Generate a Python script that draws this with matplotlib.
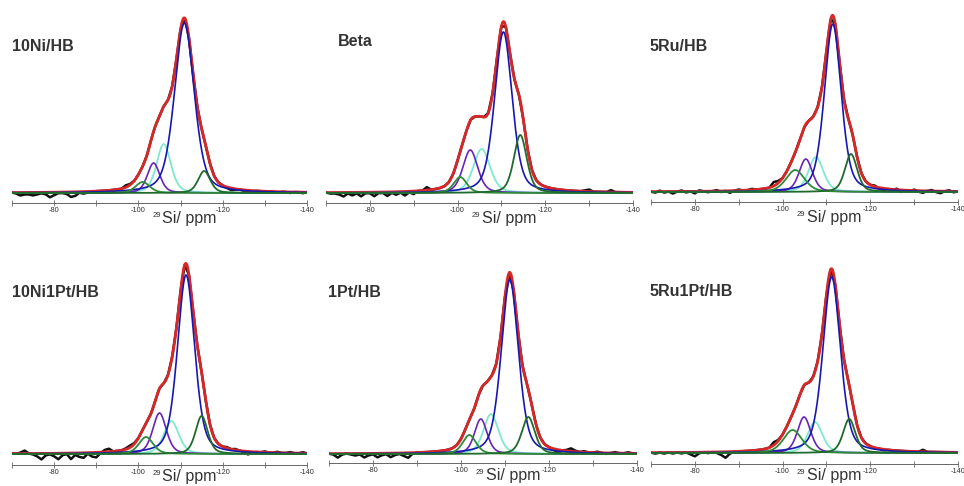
import matplotlib
matplotlib.use("Agg")
import matplotlib.pyplot as plt
import numpy as np

plt.rcParams['font.family'] = ['Liberation Sans', 'DejaVu Sans']

# sample names
titles = ["10Ni/HB", "Beta", "5Ru/HB", "10Ni1Pt/HB", "1Pt/HB", "5Ru1Pt/HB"]

# deconvoluted 29Si peaks: position (ppm), height (a.u.), fwhm (ppm)
green1_pos = [-101.0, -100.6, -102.9, -101.8, -101.9, -102.3]
green1_amp = [11, 16, 22, 17, 19, 23]
green1_fwhm = [4.0, 3.5, 5.0, 4.0, 3.6, 5.0]

purple_pos = [-103.6, -102.9, -105.3, -105.0, -104.5, -104.9]
purple_amp = [30, 43, 33, 41, 35, 36]
purple_fwhm = [3.5, 4.0, 3.6, 3.8, 3.4, 3.6]

cyan_pos = [-106.0, -105.5, -107.6, -107.8, -106.8, -107.4]
cyan_amp = [49, 44, 35, 33, 40, 31]
cyan_fwhm = [4.0, 4.5, 4.0, 4.2, 4.0, 4.0]

blue_pos = [-110.9, -110.45, -111.45, -111.3, -111.1, -111.2]
blue_amp = [170, 161, 168, 179, 174, 176]
blue_fwhm = [5.5, 4.7, 4.5, 4.8, 4.6, 4.7]

green2_pos = [-115.6, -114.3, -115.6, -115.0, -115.3, -115.2]
green2_amp = [22, 58, 38, 38, 37, 34]
green2_fwhm = [3.4, 3.5, 3.3, 3.4, 3.5, 3.3]

# experimental trace: deviation from the fit, one value per ppm from -70 to -140
noise_ppm = np.arange(-70, -141, -1)
noise = [
    [0, -1, -3, -2, -2, -3, -2, -1, -2, -5, -3, -1, -1, -2, -5, -4, -1, -2, -1, -1, 0,
     0, 0, 0, 0, 0, 0, 2, 1, 0, 0, 0, 0, 0, 0, 0, 0, 0, 0, 0, 0, 0, 0, 0, 0, 0, 0, 0, 0, 0,
     0, -1, -2, -1, 0, -1, -2, -1, 0, 0, -1, 0, 0, -1, 0, 0, -1, 0, 0, -1, 0],
    [0, -1, -1, -2, -4, -1, -3, -1, -4, -1, -1, -4, -1, -1, -4, -1, -3, -1, -4, -1, -3,
     0, 0, 3, 0, 0, 0, 0, 0, 0, 0, 0, 0, 0, 0, 0, 0, 0, 0, 0, 0, 0, 0, 0, 0, 0, 0, 0, 0, 0,
     0, 0, 0, 0, 0, 0, 0, 0, 0, 1, 2, 0, 0, 0, 0, 2, 0, 0, 0, 0, 0],
    [0, -1, 1, -1, 0, -2, 0, 1, -1, 0, -2, 1, 0, -1, 0, 1, -1, 0, -2, 0, 1,
     0, 0, 1, 0, 0, 0, 0, 4, 2, 0, 0, 0, 0, 0, 0, 0, 0, 0, 0, 0, 0, 0, 0, 0, 0, 0, 0, 0, 0,
     0, 1, -1, -2, 0, -1, 1, -2, 0, -1, 1, -1, -2, 0, 1, -1, -2, 0, 1, -1, 0],
    [0, 0, 1, 3, 0, -1, -3, -6, -2, -1, -3, -6, -2, -1, -6, -2, -4, -5, -1, -4, -5,
     -1, 2, 3, 0, 0, 0, 1, 2, 1, 0, 0, 0, 0, 0, 0, 0, 0, 0, 0, 0, 0, 0, 0, 0, 0, 0, 0, 0, 0,
     0, 1, 0, 1, 0, -1, -3, -1, 0, 0, 1, 0, 0, 1, 0, 0, 1, 0, 0, 1, 0],
    [0, -1, -4, -1, 0, -1, -2, -1, -4, -2, -1, -4, -2, -1, -4, -2, -1, -3, -5, -1, 0,
     0, 0, 0, 0, 0, 0, 0, 0, 0, 0, 0, 0, 0, 0, 0, 0, 0, 0, 0, 0, 0, 0, 0, 0, 0, 0, 0, 0, 0,
     0, -1, -3, 0, 1, 3, 1, 0, 1, 0, 0, 1, 0, -1, 0, 1, 0, 0, 1, 0, 0],
    [0, -1, 0, -1, 0, -1, 0, -1, 0, -2, -4, -1, 0, -1, 0, -1, -3, -6, -2, 0, -1,
     0, 0, 0, 0, 0, 0, 0, 3, 1, 0, 0, 0, 0, 0, 0, 0, 0, 0, 0, 0, 0, 0, 0, 0, 0, 0, 0, 0, 0,
     0, -1, 0, -1, 0, 0, 0, 0, 0, 0, 0, 0, 2, 0, 0, 0, 0, 0, 0, 0, 0],
]

# axes boxes in pixels: left, top, right, bottom (spine), baseline offset
boxes = [(12, 10, 307, 203, 10), (326, 10, 633, 203, 10), (651, 10, 958, 202, 10),
         (12, 250, 307, 465, 11), (329, 250, 637, 463, 9), (651, 250, 958, 464, 11)]
title_pos = [(12, 51), (338, 46), (649, 51), (12, 297), (328, 297), (650, 296)]
label_drop = [20, 20, 20, 16, 17, 16]

W, H = 964, 486


def pvoigt(x, c, h, w, eta=0.4):
    g = np.exp(-4 * np.log(2) * ((x - c) / w) ** 2)
    l = 1 / (1 + (2 * (x - c) / w) ** 2)
    return h * (eta * l + (1 - eta) * g)


fig = plt.figure(figsize=(W / 100, H / 100), dpi=100)
x = np.linspace(-70, -140, 1401)

for i in range(6):
    l, t, r, b, off = boxes[i]
    ax = fig.add_axes([l / W, 1 - b / H, (r - l) / W, (b - t) / H])
    ax.set_xlim(-70, -140)
    ax.set_ylim(-off, b - t - off)

    comps = [
        (green1_pos[i], green1_amp[i], green1_fwhm[i], "#2f8a3a", 1.3),
        (purple_pos[i], purple_amp[i], purple_fwhm[i], "#6a24b4", 1.2),
        (cyan_pos[i], cyan_amp[i], cyan_fwhm[i], "#7fe9cf", 1.3),
        (blue_pos[i], blue_amp[i], blue_fwhm[i], "#1818b0", 1.2),
        (green2_pos[i], green2_amp[i], green2_fwhm[i], "#1f6a2c", 1.3),
    ]
    fit = sum(pvoigt(x, c, h, w) for c, h, w, _, _ in comps)
    fit_n = sum(pvoigt(noise_ppm, c, h, w) for c, h, w, _, _ in comps)

    ax.plot(noise_ppm, fit_n + np.array(noise[i]), color="#111111", lw=1.8, zorder=2)
    ax.plot(x, fit, color="#d62828", lw=2.0, zorder=3)
    order = [2, 1, 3, 0, 4]
    for k in order:
        c, h, w, col, lw = comps[k]
        ax.plot(x, pvoigt(x, c, h, w), color=col, lw=lw, zorder=4)

    for s in ["top", "right", "left"]:
        ax.spines[s].set_visible(False)
    ax.spines["bottom"].set_color("#666666")
    ax.spines["bottom"].set_linewidth(0.7)
    ax.set_yticks([])
    ax.set_xticks([-80, -100, -120, -140])
    ax.set_xticklabels(["-80", "-100", "-120", "-140"])
    ax.set_xticks([-70, -90, -110, -130], minor=True)
    ax.tick_params(axis="x", which="both", direction="inout", length=4, width=0.6,
                   color="#666666", labelsize=5.3, labelcolor="#333333", pad=1)
    ax.patch.set_visible(False)

    drop = label_drop[i]
    ax.annotate("29", xy=(-103.3, 0), xycoords=("data", "axes fraction"),
                xytext=(0, -(drop - 6) * 0.72), textcoords="offset points",
                fontsize=5.5, color="#333333", va="baseline", ha="left",
                annotation_clip=False)
    ax.annotate("Si/ ppm", xy=(-105.6, 0), xycoords=("data", "axes fraction"),
                xytext=(0, -drop * 0.72), textcoords="offset points",
                fontsize=11.5, color="#333333", va="baseline", ha="left",
                annotation_clip=False)

    tx, ty = title_pos[i]
    fig.text(tx / W, 1 - ty / H, titles[i], fontsize=11.5, fontweight="bold",
             color="#333333", va="baseline", ha="left")

fig.savefig("out.png", dpi=100)
